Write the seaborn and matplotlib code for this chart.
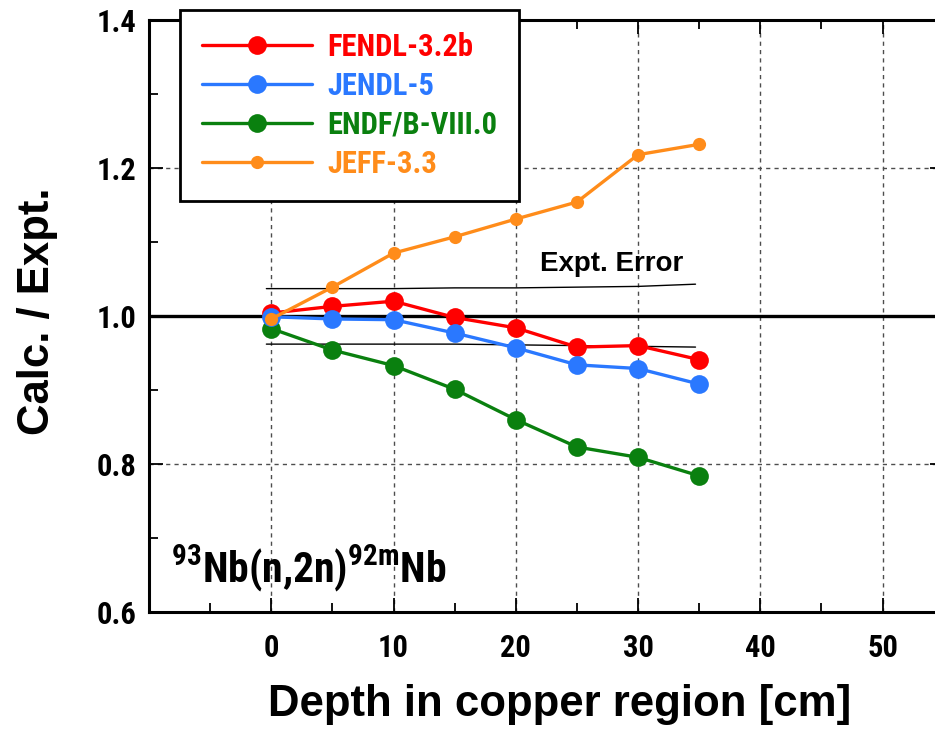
import matplotlib
matplotlib.use("Agg")
import matplotlib.pyplot as plt
import seaborn as sns
from matplotlib import font_manager
from matplotlib.ticker import MultipleLocator, FormatStrFormatter

# -----------------------------------------------------
# data
# -----------------------------------------------------
depth = [0, 5, 10, 15, 20, 25, 30, 35]
fendl = [1.004, 1.013, 1.020, 0.998, 0.984, 0.958, 0.960, 0.941]
jendl = [0.999, 0.996, 0.995, 0.977, 0.957, 0.934, 0.929, 0.908]
endf = [0.983, 0.954, 0.933, 0.901, 0.860, 0.823, 0.809, 0.784]
jeff = [0.996, 1.039, 1.085, 1.107, 1.131, 1.154, 1.218, 1.232]

err_x = [-0.4, 5, 10, 15, 20, 25, 30, 34.7]
err_upper = [1.037, 1.037, 1.037, 1.038, 1.038, 1.039, 1.040, 1.043]
err_lower = [0.962, 0.962, 0.962, 0.962, 0.961, 0.960, 0.959, 0.958]

x_ticks = [0, 10, 20, 30, 40, 50]

# -----------------------------------------------------
# style / fonts
# -----------------------------------------------------
sns.set_style("ticks")
plt.rcParams["font.family"] = ["Liberation Sans", "DejaVu Sans"]
plt.rcParams["mathtext.default"] = "regular"
for key in ["text.color", "axes.labelcolor", "xtick.color", "ytick.color", "axes.edgecolor"]:
    plt.rcParams[key] = "black"

def narrow(size):
    # condensed bold, close to Helvetica Condensed Bold of the original
    return font_manager.FontProperties(family=["Roboto Condensed", "DejaVu Sans"],
                                       weight="bold", size=size)

# -----------------------------------------------------
# figure
# -----------------------------------------------------
W, H = 935, 729
fig = plt.figure(figsize=(W / 100, H / 100), dpi=100)
left, right, top, bottom = 149, 943.7, 20, 612
ax = fig.add_axes([left / W, 1 - bottom / H, (right - left) / W, (bottom - top) / H])

ax.axhline(1.0, color="black", lw=2.4, zorder=2)

sns.lineplot(x=err_x, y=err_upper, color="black", lw=1.0, ax=ax, zorder=2.5)
sns.lineplot(x=err_x, y=err_lower, color="black", lw=1.0, ax=ax, zorder=2.5)

series = [
    ("ENDF/B-VIII.0", endf, "#0a800f", 13.5),
    ("FENDL-3.2b", fendl, "#ff0000", 13.5),
    ("JENDL-5", jendl, "#2a78ff", 13.5),
    ("JEFF-3.3", jeff, "#ff8c1a", 9.5),
]
for name, vals, col, ms in series:
    sns.lineplot(x=depth, y=vals, color=col, lw=2.4, marker="o", markersize=ms,
                 markeredgewidth=0, label=name, ax=ax, zorder=3)

ax.set_xlim(-10, 55)
ax.set_ylim(0.6, 1.4)
ax.set_xticks(x_ticks)
ax.xaxis.set_minor_locator(MultipleLocator(5))
ax.yaxis.set_major_locator(MultipleLocator(0.2))
ax.yaxis.set_minor_locator(MultipleLocator(0.1))
ax.yaxis.set_major_formatter(FormatStrFormatter("%.1f"))

ax.grid(True, which="major", ls=(0, (3, 3)), color="0.3", lw=1.0, zorder=1)

ax.tick_params(which="both", direction="in", top=True, right=True, width=1.3)
ax.tick_params(which="major", length=10)
ax.tick_params(which="minor", length=6.5)
ax.tick_params(axis="x", which="major", pad=15)
ax.tick_params(axis="y", which="major", pad=9)
for lab in ax.get_xticklabels() + ax.get_yticklabels():
    lab.set_fontproperties(narrow(22))

for sp in ax.spines.values():
    sp.set_linewidth(2.2)

ax.set_xlabel("Depth in copper region [cm]", fontsize=31.5, fontweight="bold", va="center")
ax.set_ylabel("Calc. / Expt.", fontsize=31.5, fontweight="bold", va="center")
ax.xaxis.set_label_coords(0.517, -0.157)
ax.yaxis.set_label_coords(-0.1397, 0.508)

ax.text(22.0, 1.0612, "Expt. Error", fontsize=20, fontweight="bold",
        ha="left", va="baseline", zorder=4)
ax.text(-8.2, 0.6405, r"$^{93}$Nb(n,2n)$^{92m}$Nb", fontproperties=narrow(30),
        ha="left", va="baseline", zorder=4)

# legend in the reference order
handles, labels = ax.get_legend_handles_labels()
order = ["FENDL-3.2b", "JENDL-5", "ENDF/B-VIII.0", "JEFF-3.3"]
idx = [labels.index(o) for o in order]
leg = ax.legend([handles[i] for i in idx], order, loc="upper left",
                bbox_to_anchor=(180 / W, 1 - 10 / H), bbox_transform=fig.transFigure,
                prop=narrow(22), frameon=True, fancybox=False, edgecolor="black",
                framealpha=1, handlelength=3.6, handletextpad=0.5,
                labelspacing=0.29, borderpad=0.72, borderaxespad=0)
leg.get_frame().set_linewidth(2.0)
leg.set_zorder(5)
for txt, line in zip(leg.get_texts(), leg.get_lines()):
    txt.set_color(line.get_color())

fig.savefig("out.png", dpi=100)
